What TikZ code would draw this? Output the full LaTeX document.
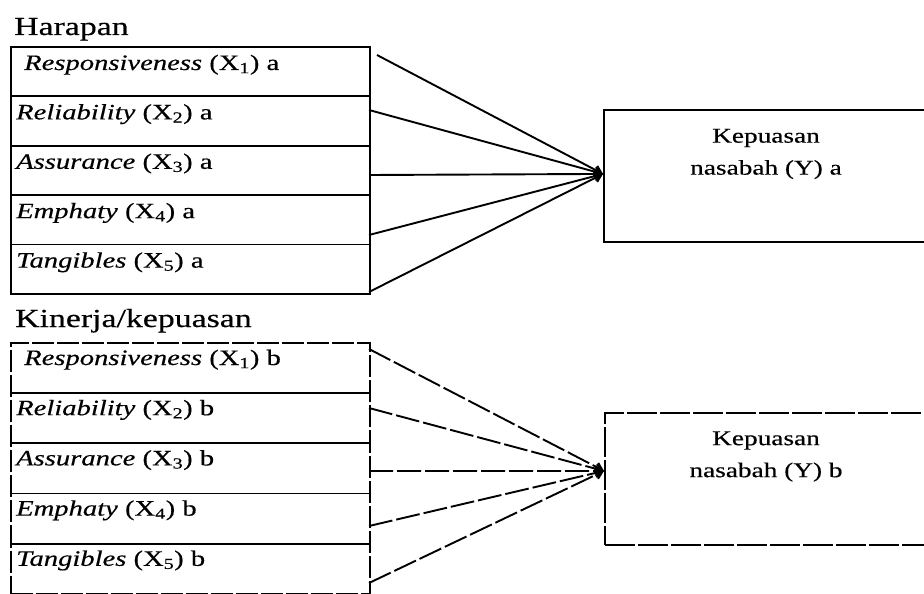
\documentclass[tikz,border=0pt]{standalone}
\usepackage{fontspec}
\setmainfont[FakeStretch=1.3,FakeBold=0.4]{Liberation Serif}
\usetikzlibrary{arrows.meta,calc}
\begin{document}
\begin{tikzpicture}[x=1pt,y=-1pt,
  row/.style={draw, line width=1.8pt, minimum width=359pt, minimum height=49.4pt, anchor=north west, inner sep=0pt},
  rowb/.style={row, minimum height=50.2pt, dash pattern=on 22pt off 3pt},
  item/.style={anchor=base west, inner sep=0pt, font=\fontsize{22}{26}\selectfont},
  head/.style={anchor=base west, inner sep=0pt, font=\fontsize{26}{30}\selectfont},
  ybox/.style={draw, line width=1.9pt, minimum width=323pt, minimum height=132pt, anchor=north west, inner sep=0pt},
  yboxb/.style={ybox, dash pattern=on 30pt off 3pt},
  ytext/.style={align=center, font=\fontsize{21}{32}\selectfont, inner sep=0pt},
  conn/.style={line width=1.9pt, -{Straight Barb[length=7pt,width=9pt]}},
  connb/.style={conn, dash pattern=on 24pt off 4pt},
]
\useasboundingbox (0,0) rectangle (924,594);

% ---- Harapan group ----
\node[head] (h1) at (14,35) {Harapan};
\node[row] (a1) at (10,46) {};
\node[row] (a2) at (10,95.4) {};
\node[row] (a3) at (10,144.8) {};
\node[row] (a4) at (10,194.2) {};
\node[row] (a5) at (10,243.6) {};
\node[item] (ta1) at (24,70) {\textit{Responsiveness} (X\textsubscript{1}) a};
\node[item] (ta2) at (16,119.4) {\textit{Reliability} (X\textsubscript{2}) a};
\node[item] (ta3) at (16,168.8) {\textit{Assurance} (X\textsubscript{3}) a};
\node[item] (ta4) at (16,218.2) {\textit{Emphaty} (X\textsubscript{4}) a};
\node[item] (ta5) at (16,267.6) {\textit{Tangibles} (X\textsubscript{5}) a};

\node[ybox] (ya) at (603,109) {};
\node[ytext] (tya) at (766,154) {Kepuasan\\nasabah (Y) a};

\coordinate (sa1) at (377,55);
\coordinate (sa2) at (369,110);
\coordinate (sa3) at (369,175);
\coordinate (sa4) at (369,235);
\coordinate (sa5) at (369,292);
\coordinate (ea) at ($(ya.west)+(0,-2)$);
\foreach \i in {1,...,5} \draw[conn] (sa\i) -- (ea);

% ---- Kinerja/kepuasan group ----
\node[head] (h2) at (15,327) {Kinerja/kepuasan};
\node[rowb] (b1) at (10,342) {};
\node[rowb] (b2) at (10,392.2) {};
\node[rowb] (b3) at (10,442.4) {};
\node[rowb] (b4) at (10,492.6) {};
\node[rowb] (b5) at (10,542.8) {};
\node[item] (tb1) at (24,365) {\textit{Responsiveness} (X\textsubscript{1}) b};
\node[item] (tb2) at (16,415.2) {\textit{Reliability} (X\textsubscript{2}) b};
\node[item] (tb3) at (16,465.4) {\textit{Assurance} (X\textsubscript{3}) b};
\node[item] (tb4) at (16,515.6) {\textit{Emphaty} (X\textsubscript{4}) b};
\node[item] (tb5) at (16,565.8) {\textit{Tangibles} (X\textsubscript{5}) b};

\node[yboxb] (yb) at (604,412) {};
\node[ytext] (tyb) at (766,456.5) {Kepuasan\\nasabah (Y) b};

\coordinate (sb1) at (369,349);
\coordinate (sb2) at (369,408);
\coordinate (sb3) at (369,471);
\coordinate (sb4) at (369,526);
\coordinate (sb5) at (369,583);
\coordinate (eb) at ($(yb.west)+(0,-8)$);
\foreach \i in {1,...,5} \draw[connb] (sb\i) -- (eb);
\end{tikzpicture}
\end{document}
